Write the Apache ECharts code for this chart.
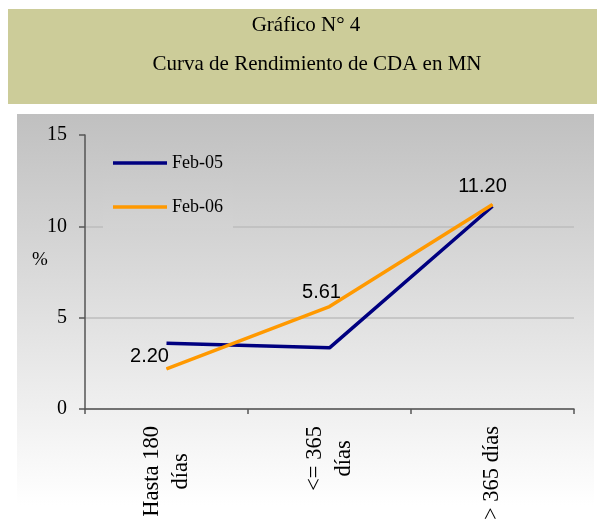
<!DOCTYPE html>
<html>
<head>
<meta charset="utf-8">
<script src="https://cdn.jsdelivr.net/npm/echarts@6/dist/echarts.min.js"></script>
<style>html,body{margin:0;padding:0;background:#fff;}#c{width:599px;height:523px;}</style>
</head>
<body>
<div id="c"></div>
<script>
// ---- data ----
const titleLines = ['Gráfico N° 4', 'Curva de Rendimiento de CDA en MN'];
const categories = ['Hasta 180\ndías', '<= 365\ndías', '> 365 días'];
const seriesNames = ['Feb-05', 'Feb-06'];
const feb05 = [3.6, 3.35, 11.1];
const feb06 = [2.20, 5.61, 11.20];
const yMin = 0, yMax = 15, yStep = 5;
const yUnit = '%';

// ---- styles / layout ----
const labelOffsets = [[-17, -12], [-8, -14], [-10, -18]];
const SERIF = "'Liberation Serif', 'Times New Roman', serif";
const SANS = "'Liberation Sans', Arial, sans-serif";
const bgTop = 114, bgBottom = 505;
function grayAt(y) {
  const v = Math.round(192 + (255 - 192) * (y - bgTop) / (bgBottom - bgTop));
  return 'rgb(' + v + ',' + v + ',' + v + ')';
}

const chart = echarts.init(document.getElementById('c'), null, {renderer: 'canvas'});
chart.setOption({
  backgroundColor: '#ffffff',
  animation: false,
  graphic: [
    {type: 'rect', z: -10, shape: {x: 8, y: 9, width: 589, height: 95}, style: {fill: '#CCCC99'}},
    {type: 'rect', z: -10, shape: {x: 17, y: bgTop, width: 577, height: bgBottom - bgTop},
      style: {fill: new echarts.graphic.LinearGradient(0, 0, 0, 1, [
        {offset: 0, color: '#c0c0c0'}, {offset: 1, color: '#ffffff'}])}},
    {type: 'text', z: 10, x: 306, y: 25, style: {text: titleLines[0], font: '21px ' + SERIF, fill: '#000', textAlign: 'center', textVerticalAlign: 'middle'}},
    {type: 'text', z: 10, x: 317, y: 64, style: {text: titleLines[1], font: '21px ' + SERIF, fill: '#000', textAlign: 'center', textVerticalAlign: 'middle'}},
    {type: 'text', z: 10, x: 40, y: 260, style: {text: yUnit, font: '19px ' + SERIF, fill: '#000', textAlign: 'center', textVerticalAlign: 'middle'}}
  ],
  grid: {left: 85, right: 25, top: 135, bottom: 112, containLabel: false},
  legend: {
    data: seriesNames,
    orient: 'vertical',
    left: 103, top: 140,
    padding: [14, 10, 12, 10],
    itemGap: 26,
    icon: 'rect',
    itemWidth: 54, itemHeight: 3.5,
    backgroundColor: new echarts.graphic.LinearGradient(0, 0, 0, 1, [
      {offset: 0, color: grayAt(140)}, {offset: 1, color: grayAt(232)}]),
    textStyle: {fontFamily: SERIF, fontSize: 18, color: '#000'}
  },
  xAxis: {
    type: 'category',
    data: categories,
    boundaryGap: true,
    axisLine: {show: true, lineStyle: {color: '#555', width: 1.5}},
    axisTick: {show: true, length: 5, lineStyle: {color: '#555', width: 1.5}},
    splitLine: {show: false},
    axisLabel: {
      interval: 0, rotate: 90, margin: 17,
      fontFamily: SERIF, fontSize: 22.5, color: '#000',
      formatter: function (v) { return v.split('\n').map(function (s) { return '{c|' + s + '}'; }).join('\n'); },
      rich: {c: {fontFamily: SERIF, fontSize: 22.5, color: '#000', lineHeight: 29, align: 'center'}}
    }
  },
  yAxis: {
    type: 'value',
    min: yMin, max: yMax, interval: yStep,
    axisLine: {show: true, lineStyle: {color: '#555', width: 1.5}},
    axisTick: {show: true, length: 6, lineStyle: {color: '#555', width: 1.5}},
    axisLabel: {margin: 18, fontFamily: SERIF, fontSize: 20, color: '#000'},
    splitLine: {show: true, lineStyle: {color: ['#bdbdbd', '#bdbdbd', '#bdbdbd', 'rgba(0,0,0,0)'], width: 1.5}}
  },
  series: [
    {
      name: seriesNames[0], type: 'line', data: feb05,
      symbol: 'none', smooth: false,
      lineStyle: {color: '#000080', width: 3.5},
      itemStyle: {color: '#000080'},
      z: 3
    },
    {
      name: seriesNames[1], type: 'line',
      data: feb06.map(function (v, i) {
        return {value: v, label: {offset: labelOffsets[i]}};
      }),
      symbol: 'circle', symbolSize: 1,
      lineStyle: {color: '#FF9900', width: 3.5},
      itemStyle: {color: '#FF9900'},
      label: {
        show: true, position: 'inside', align: 'center', verticalAlign: 'middle',
        fontFamily: SANS, fontSize: 20, color: '#000',
        formatter: function (p) { return p.value.toFixed(2); }
      },
      z: 4
    }
  ]
});
</script>
</body>
</html>
